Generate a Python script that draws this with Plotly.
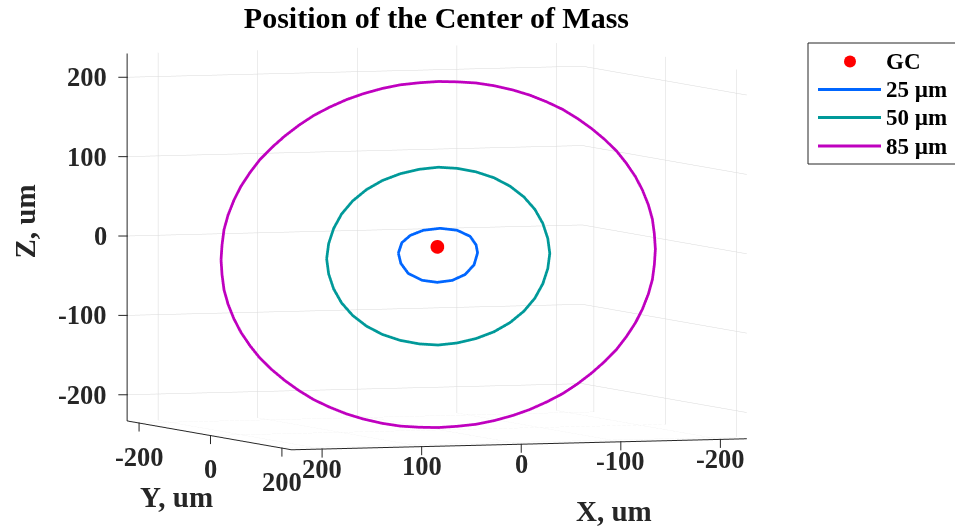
import plotly.graph_objects as go

# ---------------- data ----------------
gc_x = [3]
gc_y = [0]
gc_z = [-2]

# 25 um trajectory
blue_x = [42, 38.5, 30, 17, 0, -17, -30, -36, -37.5, -34, -25, -12, 3, 18, 32, 39.5, 42]
blue_y = [0, 0, 0, 0, 0, 0, 0, 0, 0, 0, 0, 0, 0, 0, 0, 0, 0]
blue_z = [-9, 4, 13, 19, 21, 18, 10, -1, -11, -26, -38, -45, -47, -44, -35, -22, -9]

# 50 um trajectory
teal_x = [114, 112, 107, 99, 88, 74, 58, 40, 21, 2, -17, -36, -54, -70, -84, -95, -103, -108,
          -110, -108, -103, -95, -84, -70, -54, -36, -17, 2, 21, 40, 58, 74, 88, 99, 107, 112, 114]
teal_y = [0] * len(teal_x)
teal_z = [-14, 5, 24, 42, 58, 72, 83, 91, 96, 98, 96, 91, 83, 72, 58, 42, 24, 5,
          -14, -33, -52, -70, -86, -100, -111, -119, -124, -126, -124, -119, -111, -100, -86, -70, -52, -33, -14]

# 85 um trajectory
purple_x = [220, 219, 217, 213, 207, 200, 191, 181, 169, 156, 142, 127, 111, 94, 77, 58, 40, 21,
            2, -17, -36, -54, -73, -90, -107, -123, -138, -152, -165, -177, -187, -196, -203, -209, -213, -215,
            -216, -215, -213, -209, -203, -196, -187, -177, -165, -152, -138, -123, -107, -90, -73, -54, -36, -17,
            2, 21, 40, 58, 77, 94, 111, 127, 142, 156, 169, 181, 191, 200, 207, 213, 217, 219, 220]
purple_y = [0] * len(purple_x)
purple_z = [-12, 7, 26, 44, 63, 80, 97, 113, 128, 142, 155, 167, 177, 186, 193, 199, 203, 205,
            206, 205, 203, 199, 193, 186, 177, 167, 155, 142, 128, 113, 97, 80, 63, 44, 26, 7,
            -12, -31, -50, -68, -87, -104, -121, -137, -152, -166, -179, -191, -201, -210, -217, -223, -227, -229,
            -230, -229, -227, -223, -217, -210, -201, -191, -179, -166, -152, -137, -121, -104, -87, -68, -50, -31, -12]

series_names = ["GC", "25 µm", "50 µm", "85 µm"]
series_colors = ["#FF0000", "#0066FF", "#009999", "#BF00BF"]

xz_ticks = [-200, -100, 0, 100, 200]
xz_ticktext = ["-200", "-100", "0", "100", "200"]
y_ticks = [-200, 0, 200]
y_ticktext = ["-200", "0", "200"]
axis_titles = ["X, um", "Y, um", "Z, um"]

x_range = [-226, 231]
y_range = [-232, 228]
z_range = [-233, 230]

# ---------------- figure ----------------
FONT = "Liberation Serif"
INK = "#262626"
S = 1.86          # scene zoom (orthographic)
EPS = 0.5         # keep annotation anchors just inside the axis box

fig = go.Figure()
fig.add_trace(go.Scatter3d(x=gc_x, y=gc_y, z=gc_z, mode="markers", name=series_names[0], showlegend=False,
                           marker=dict(size=8, color=series_colors[0], line=dict(width=0))))
for (xs, ys, zs), nm, col in zip([(blue_x, blue_y, blue_z), (teal_x, teal_y, teal_z),
                                  (purple_x, purple_y, purple_z)], series_names[1:], series_colors[1:]):
    fig.add_trace(go.Scatter3d(x=xs, y=ys, z=zs, mode="lines", name=nm, showlegend=False,
                               line=dict(color=col, width=5.5)))

def axis(vals, rng):
    return dict(
        title=dict(text=""),
        range=rng, autorange=False,
        tickmode="array", tickvals=vals, showticklabels=False,
        showgrid=True, gridcolor="#D9D9D9", gridwidth=1,
        showline=True, linecolor=INK, linewidth=2,
        ticks="",
        showbackground=False, zeroline=False, showspikes=False,
    )

# tick labels / tick marks / axis titles as scene annotations anchored at data positions
tick_font = dict(family=FONT, size=26.5, color=INK, weight="bold")
title_font = dict(family=FONT, size=29, color=INK, weight="bold")
x_lo, x_hi = x_range[0] + EPS, x_range[1] - EPS
y_lo, y_hi = y_range[0] + EPS, y_range[1] - EPS
z_lo, z_hi = z_range[0] + EPS, z_range[1] - EPS

def tickmark(x, y, z, ax, ay):
    return dict(x=x, y=y, z=z, text=" ", font=dict(size=1), showarrow=True, arrowhead=0,
                arrowwidth=1, arrowcolor=INK, ax=ax, ay=ay, standoff=0)

scene_ann = []
for v, t in zip(xz_ticks, xz_ticktext):   # X ticks along front-bottom edge
    scene_ann.append(tickmark(v, y_hi, z_lo, 0, 11))
    scene_ann.append(dict(x=v, y=y_hi, z=z_lo, text=t, showarrow=False,
                          xanchor="center", yanchor="middle", yshift=-20, font=tick_font))
for v, t in zip(y_ticks, y_ticktext):     # Y ticks along left-bottom edge
    scene_ann.append(tickmark(x_hi, v, z_lo, 0, 11))
    scene_ann.append(dict(x=x_hi, y=v, z=z_lo, text=t, showarrow=False,
                          xanchor="center", yanchor="middle", yshift=-34, font=tick_font))
for v, t in zip(xz_ticks, xz_ticktext):   # Z ticks along left vertical edge
    scene_ann.append(tickmark(x_hi, y_lo, v, -11, 0))
    scene_ann.append(dict(x=x_hi, y=y_lo, z=v, text=t, showarrow=False,
                          xanchor="right", yanchor="middle", xshift=-19, font=tick_font))
scene_ann.append(dict(x=-93, y=y_hi, z=z_lo, text=axis_titles[0], showarrow=False,
                      xanchor="center", yanchor="middle", yshift=-69, font=title_font))
scene_ann.append(dict(x=x_hi, y=-94, z=z_lo, text=axis_titles[1], showarrow=False,
                      xanchor="center", yanchor="middle", yshift=-68, font=title_font))
scene_ann.append(dict(x=x_hi, y=y_lo, z=18, text=axis_titles[2], showarrow=False,
                      xanchor="center", yanchor="middle", xshift=-103, textangle=-90, font=title_font))

shift = (-0.009, 0.003, -0.068)
L = 3.0
view = (0.3479, 0.9353, 0.0653)

# ---- hand-drawn legend (paper coordinates) ----
W, H = 955, 528
def px(x): return x / W
def py(y): return 1 - y / H

shapes = [dict(type="rect", xref="paper", yref="paper", x0=px(808), x1=px(975), y0=py(164), y1=py(43),
               line=dict(color=INK, width=1), fillcolor="white", layer="above")]
annotations = []
legend_rows = [61.5, 89.5, 117.5, 146]
for i, (nm, col) in enumerate(zip(series_names, series_colors)):
    yy = legend_rows[i]
    if i == 0:
        shapes.append(dict(type="circle", xref="paper", yref="paper", xsizemode="pixel", ysizemode="pixel",
                           xanchor=px(850), yanchor=py(yy), x0=-6, x1=6, y0=-6, y1=6,
                           line=dict(width=0), fillcolor=col, layer="above"))
    else:
        shapes.append(dict(type="line", xref="paper", yref="paper", x0=px(818), x1=px(881), y0=py(yy), y1=py(yy),
                           line=dict(color=col, width=3), layer="above"))
    annotations.append(dict(text=nm, xref="paper", yref="paper", x=px(884), y=py(yy), xanchor="left",
                            yanchor="middle", showarrow=False,
                            font=dict(family=FONT, size=23, color="black", weight="bold")))

fig.update_layout(
    width=W, height=H,
    margin=dict(l=0, r=0, t=0, b=0, autoexpand=False),
    paper_bgcolor="white",
    title=dict(text="Position of the Center of Mass", x=0.457, y=0.966, xref="container", yref="container",
               xanchor="center", yanchor="middle",
               font=dict(family=FONT, size=30, color="black", weight="bold")),
    scene=dict(
        domain=dict(x=[0.0, 0.92], y=[0.0, 1.0]),
        xaxis=axis(xz_ticks, x_range),
        yaxis=axis(y_ticks, y_range),
        zaxis=axis(xz_ticks, z_range),
        aspectmode="manual",
        aspectratio=dict(x=S * (x_range[1] - x_range[0]) / 462, y=S * 0.96, z=0.75 * S),
        camera=dict(projection=dict(type="orthographic"),
                    eye=dict(x=view[0] * L + shift[0], y=view[1] * L + shift[1], z=view[2] * L + shift[2]),
                    up=dict(x=0, y=0, z=1), center=dict(x=shift[0], y=shift[1], z=shift[2])),
        bgcolor="rgba(0,0,0,0)",
        annotations=scene_ann,
    ),
    showlegend=False,
    shapes=shapes,
    annotations=annotations,
)

fig.write_html("out.html", config={"displayModeBar": False},
               post_script="document.body.style.margin='0';")
